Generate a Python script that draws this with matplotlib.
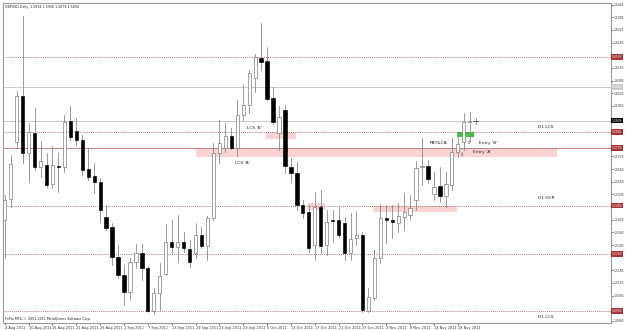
import matplotlib.pyplot as plt
from matplotlib.patches import Rectangle

# ----------------------------------------------------------------------
# daily candles, 4 Aug 2011 .. 23 Nov 2011
# ----------------------------------------------------------------------
opens = [1.5423, 1.5523, 1.5794, 1.6012, 1.5741, 1.5836, 1.5675, 1.5684, 1.5594, 1.5680,
         1.5675, 1.5893, 1.5846, 1.5803, 1.5665, 1.5632, 1.5604, 1.5437, 1.5390, 1.5248,
         1.5163, 1.5082, 1.5224, 1.5267, 1.5196, 1.4992, 1.5077, 1.5167, 1.5319, 1.5296,
         1.5319, 1.5286, 1.5267, 1.5352, 1.5300, 1.5433, 1.5741, 1.5765, 1.5822, 1.5765,
         1.5922, 1.5969, 1.6097, 1.6192, 1.6178, 1.6002, 1.5836, 1.5945, 1.5675, 1.5646,
         1.5495, 1.5461, 1.5305, 1.5485, 1.5305, 1.5423, 1.5423, 1.5409, 1.5267, 1.5338,
         1.5352, 1.4992, 1.5054, 1.5243, 1.5433, 1.5423, 1.5409, 1.5437, 1.5447, 1.5518,
         1.5677, 1.5680, 1.5547, 1.5585, 1.5537, 1.5589, 1.5746, 1.5794, 1.5888, 1.5894]
highs = [1.5542, 1.5732, 1.6035, 1.6391, 1.5884, 1.5955, 1.5798, 1.5741, 1.5775, 1.5741,
         1.5922, 1.5964, 1.5907, 1.5827, 1.5765, 1.5694, 1.5623, 1.5495, 1.5409, 1.5305,
         1.5210, 1.5243, 1.5310, 1.5310, 1.5205, 1.5101, 1.5220, 1.5405, 1.5423, 1.5447,
         1.5367, 1.5329, 1.5409, 1.5390, 1.5442, 1.5789, 1.5898, 1.5884, 1.5860, 1.5993,
         1.6064, 1.6135, 1.6211, 1.6358, 1.6244, 1.6054, 1.5964, 1.5969, 1.5718, 1.5699,
         1.5518, 1.5495, 1.5556, 1.5566, 1.5471, 1.5471, 1.5485, 1.5437, 1.5457, 1.5466,
         1.5367, 1.5101, 1.5281, 1.5499, 1.5495, 1.5495, 1.5504, 1.5552, 1.5542, 1.5703,
         1.5812, 1.5708, 1.5651, 1.5675, 1.5651, 1.5812, 1.5836, 1.5931, 1.5936, 1.5906]
lows = [1.5243, 1.5485, 1.5765, 1.5694, 1.5604, 1.5661, 1.5627, 1.5580, 1.5575, 1.5556,
        1.5651, 1.5803, 1.5779, 1.5637, 1.5613, 1.5552, 1.5414, 1.5376, 1.5210, 1.5149,
        1.5020, 1.5044, 1.5196, 1.5139, 1.4987, 1.4978, 1.4997, 1.5163, 1.5267, 1.5224,
        1.5272, 1.5201, 1.5243, 1.5291, 1.5234, 1.5423, 1.5694, 1.5746, 1.5760, 1.5727,
        1.5898, 1.5931, 1.6031, 1.6135, 1.5993, 1.5879, 1.5756, 1.5646, 1.5604, 1.5471,
        1.5433, 1.5272, 1.5234, 1.5267, 1.5258, 1.5319, 1.5343, 1.5234, 1.5234, 1.5305,
        1.4987, 1.4987, 1.5044, 1.5220, 1.5314, 1.5338, 1.5367, 1.5376, 1.5423, 1.5471,
        1.5589, 1.5599, 1.5518, 1.5509, 1.5485, 1.5566, 1.5722, 1.5756, 1.5794, 1.5878]
closes = [1.5518, 1.5689, 1.6012, 1.5741, 1.5841, 1.5675, 1.5703, 1.5589, 1.5684, 1.5675,
          1.5888, 1.5817, 1.5803, 1.5661, 1.5627, 1.5604, 1.5471, 1.5386, 1.5248, 1.5163,
          1.5082, 1.5224, 1.5267, 1.5196, 1.4992, 1.5077, 1.5158, 1.5319, 1.5296, 1.5319,
          1.5291, 1.5224, 1.5352, 1.5300, 1.5433, 1.5741, 1.5789, 1.5822, 1.5765, 1.5922,
          1.5969, 1.6121, 1.6197, 1.6173, 1.5997, 1.5888, 1.5912, 1.5680, 1.5646, 1.5495,
          1.5457, 1.5291, 1.5485, 1.5300, 1.5414, 1.5419, 1.5352, 1.5267, 1.5333, 1.5352,
          1.4997, 1.5058, 1.5243, 1.5433, 1.5423, 1.5414, 1.5442, 1.5461, 1.5480, 1.5670,
          1.5680, 1.5618, 1.5580, 1.5537, 1.5594, 1.5746, 1.5784, 1.5888, 1.5891, 1.5894]

date_labels = ['4 Aug 2011', '10 Aug 2011', '16 Aug 2011', '22 Aug 2011', '26 Aug 2011',
               '1 Sep 2011', '7 Sep 2011', '13 Sep 2011', '19 Sep 2011', '23 Sep 2011',
               '29 Sep 2011', '5 Oct 2011', '11 Oct 2011', '17 Oct 2011', '21 Oct 2011',
               '27 Oct 2011', '2 Nov 2011', '8 Nov 2011', '14 Nov 2011', '18 Nov 2011']

# horizontal levels
dotted_levels = [1.6197, 1.5841, 1.5492, 1.5262, 1.4992]
red_level = 1.5765
grey_level = 1.6054
bid = 1.5894

# price scale labels
scale_start = 1.6445
scale_step = 0.0060
scale_count = 26

# zones: (first bar, last bar, top, bottom)
pink_zones = [(32.0, 92.7, 1.5765, 1.5722),
              (43.8, 48.8, 1.5841, 1.5808),
              (50.8, 53.8, 1.5504, 1.5471),
              (61.8, 75.8, 1.5490, 1.5461)]
green_zone = (75.8, 78.8, 1.5841, 1.5817)

notes = [(40.7, 1.5860, "LCS 'B'"), (38.7, 1.5694, "LCS 'A'"),
         (71.3, 1.5789, 'PBT&CA'), (79.5, 1.5789, "Entry 'B'"),
         (78.5, 1.5746, "Entry 'A'"), (89.5, 1.5865, 'D1 LCS'),
         (89.5, 1.5528, 'D1 HCR'), (89.5, 1.4963, 'D1 LCS')]
arrows = [(77.8, 1.5789), (76.6, 1.5732)]

# ----------------------------------------------------------------------
fig = plt.figure(figsize=(6.25, 3.3), dpi=100)
ax = fig.add_axes([3 / 625, 1 - 323 / 330, 608 / 625, 320 / 330])
ax.set_xlim(-0.3, 101.7)
ax.set_ylim(1.4935, 1.6453)

for a, b, top, bot in pink_zones:
    ax.add_patch(Rectangle((a, bot), b - a, top - bot, fc='#fbd3d3', ec='none', zorder=0))
ax.add_patch(Rectangle((green_zone[0], green_zone[3]), green_zone[1] - green_zone[0],
                       green_zone[2] - green_zone[3], fc='#3cc83c', ec='none', zorder=0))

for lv in dotted_levels:
    ax.axhline(lv, color='#a04848', lw=0.6, ls=(0, (1, 1.5)), zorder=1)
ax.axhline(red_level, color='#d08080', lw=0.7, zorder=1)
ax.axhline(grey_level, color='#cccccc', lw=0.7, zorder=1)
ax.axhline(bid, color='#c8c8c8', lw=0.7, zorder=1)

# candles
for i in range(len(opens)):
    o, h, l, c = opens[i], highs[i], lows[i], closes[i]
    ax.plot([i, i], [l, h], color='#8a8a8a', lw=0.6, zorder=2)
    if c >= o:
        ax.bar(i, max(c - o, 0.00003), bottom=o, width=0.55, color='white',
               edgecolor='#707070', lw=0.45, zorder=3)
    else:
        ax.bar(i, o - c, bottom=c, width=0.55, color='black',
               edgecolor='black', lw=0.45, zorder=3)
ax.plot([79 - 0.4, 79 + 0.4], [bid, bid], color='#444444', lw=0.6, zorder=3)

for x, y, s in notes:
    ax.text(x, y, s, fontsize=3.2, color='#222222', va='center', ha='left', zorder=4)
for x, y in arrows:
    ax.text(x, y, '\u21e7', fontsize=3.6, color='#333333', va='center', ha='center', zorder=4)

# right price scale
ticks = []
special = dotted_levels + [red_level, grey_level, bid]
for k in range(scale_count):
    p = scale_start - k * scale_step
    if min(abs(p - s) for s in special) > 0.0022:
        ticks.append(p)
ax.yaxis.tick_right()
ax.set_yticks(ticks)
ax.set_yticklabels([f'{p:.4f}' for p in ticks])
ax.tick_params(axis='y', labelsize=2.2, length=1.2, width=0.5, pad=0.5, colors='#333333')

tr = ax.get_yaxis_transform()
box = dict(boxstyle='square,pad=0.2', ec='none')
for lv in dotted_levels + [red_level]:
    ax.text(1.0015, lv, f'{lv:.4f}', transform=tr, fontsize=2.2, color='white',
            va='center', ha='left', bbox=dict(box, fc='#a83232'), clip_on=False)
ax.text(1.0015, grey_level, f'{grey_level:.4f}', transform=tr, fontsize=2.2, color='white',
        va='center', ha='left', bbox=dict(box, fc='#c8c8c8'), clip_on=False)
ax.text(1.0015, bid, f'{bid:.4f}', transform=tr, fontsize=2.2, color='white',
        va='center', ha='left', bbox=dict(box, fc='black'), clip_on=False)

# dates
ax.set_xticks(range(0, 80, 4))
ax.set_xticklabels(date_labels, ha='left')
ax.tick_params(axis='x', labelsize=2.5, length=1.5, width=0.5, pad=0.8, colors='#333333')

for sp in ax.spines.values():
    sp.set_color('#9a9a9a')
    sp.set_linewidth(0.8)

ax.text(0.003, 0.994, 'GBPUSD,Daily  1.5894 1.5906 1.5878 1.5894', transform=ax.transAxes,
        fontsize=2.3, va='top', ha='left', color='#222222')
ax.text(0.003, 0.007, 'FxPro MT4, \u00a9 2001-2011 MetaQuotes Software Corp.',
        transform=ax.transAxes, fontsize=2.3, va='bottom', ha='left', color='#222222')

fig.savefig('out.png', dpi=100)
